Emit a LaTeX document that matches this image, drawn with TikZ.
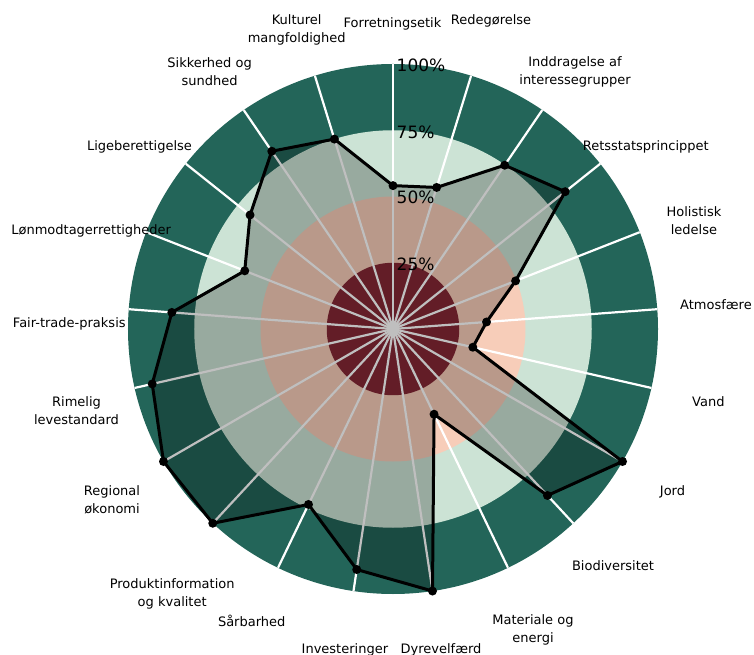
\documentclass[tikz,border=0pt]{standalone}
\usepackage{fontspec}
\setmainfont{DejaVu Sans}
\definecolor{dkgreen}{RGB}{35,101,89}
\definecolor{ltgreen}{RGB}{204,227,213}
\definecolor{peach}{RGB}{247,205,185}
\definecolor{dkred}{RGB}{133,40,53}
\begin{document}
\begin{tikzpicture}[x=1pt,y=1pt,
  lab/.style={font=\fontsize{13}{18}\selectfont, inner sep=0pt, align=center, text=black},
  pct/.style={font=\fontsize{17}{20}\selectfont, inner sep=0pt, anchor=west, text=black},
  spoke/.style={draw=white, line width=2.2pt},
  dot/.style={circle, fill=black, draw=none, inner sep=0pt, minimum size=9pt},
  areafill/.style={fill=black, opacity=0.25},
  outline/.style={draw=black, line width=3pt, line join=round}
]
\useasboundingbox (-393,-326) rectangle (361,329);
% rings
\fill[dkgreen] (0,0) circle (265pt);
\fill[ltgreen] (0,0) circle (198.75pt);
\fill[peach] (0,0) circle (132.5pt);
\fill[dkred] (0,0) circle (66.25pt);
% spokes
\coordinate (c) at (0,0);
\foreach \k in {0,...,20}{
  \coordinate (s\k) at ({90-\k*360/21}:265pt);
  \draw[spoke] (c) -- (s\k);
}
% data points
\foreach \v [count=\k from 0] in {0.541,0.559,0.748,0.831,0.497,0.354,0.309,1.0,0.857,0.357,1.0,0.918,0.735,1.0,1.0,0.932,0.837,0.601,0.69,0.812,0.75}{
  \coordinate (p\k) at ({90-\k*360/21}:{\v*265pt});
}
\fill[areafill] (p0) \foreach \k in {1,...,20}{ -- (p\k)} -- cycle;
\draw[outline] (p0) \foreach \k in {1,...,20}{ -- (p\k)} -- cycle;
\foreach \k in {0,...,20}{
  \node[dot] (d\k) at (p\k) {};
}
% percent labels
\node[pct] (q100) at (3.5,263.5) {100\%};
\node[pct] (q75) at (3.5,196.8) {75\%};
\node[pct] (q50) at (3.5,131.2) {50\%};
\node[pct] (q25) at (3.5,65) {25\%};
% axis labels
\node[lab] (l0) at (-0.5,304.8) {Forretningsetik};
\node[lab] (l1) at (98,307.8) {Redegørelse};
\node[lab] (l2) at (182,257) {Inddragelse af\\interessegrupper};
\node[lab] (l3) at (252.8,181.8) {Retsstatsprincippet};
\node[lab] (l4) at (301,108.7) {Holistisk\\ledelse};
\node[lab] (l5) at (323,24) {Atmosfære};
\node[lab] (l6) at (315.4,-72.7) {Vand};
\node[lab] (l7) at (279.5,-163) {Jord};
\node[lab] (l8) at (220,-236.8) {Biodiversitet};
\node[lab] (l9) at (140,-301) {Materiale og\\energi};
\node[lab] (l10) at (48,-320.8) {Dyrevelfærd};
\node[lab] (l11) at (-48.1,-320.8) {Investeringer};
\node[lab] (l12) at (-141.3,-291.8) {Sårbarhed};
\node[lab] (l13) at (-220.8,-265.3) {Produktinformation\\og kvalitet};
\node[lab] (l14) at (-281,-171.2) {Regional\\økonomi};
\node[lab] (l15) at (-316.5,-81.5) {Rimelig\\levestandard};
\node[lab] (l16) at (-323.7,5.5) {Fair-trade-praksis};
\node[lab] (l17) at (-301.8,98.5) {Lønmodtagerrettigheder};
\node[lab] (l18) at (-253.5,181.8) {Ligeberettigelse};
\node[lab] (l19) at (-183.4,257.5) {Sikkerhed og\\sundhed};
\node[lab] (l20) at (-96.3,298.7) {Kulturel\\mangfoldighed};
\end{tikzpicture}
\end{document}
